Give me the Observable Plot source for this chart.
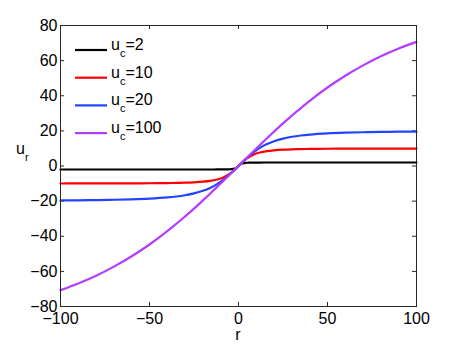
<!DOCTYPE html>
<html>
<head>
<meta charset="utf-8">
<script src="https://cdn.jsdelivr.net/npm/d3@7"></script>
<script src="https://cdn.jsdelivr.net/npm/@observablehq/plot@0.6"></script>
<style>
  html, body { margin: 0; padding: 0; background: #fff; }
  #chart { width: 460px; height: 346px; }
</style>
</head>
<body>
<div id="chart"></div>
<script>
// ---- data ----
const rValues = [-100,-90,-80,-70,-60,-50,-40,-35,-30,-25,-20,-16,-12,-10,-8,-6,-5,-4,-3,-2,-1,0,1,2,3,4,5,6,8,10,12,16,20,25,30,35,40,50,60,70,80,90,100];
const seriesNames = ["u_c=2", "u_c=10", "u_c=20", "u_c=100"];
const seriesLabels = ["2", "10", "20", "100"];
const seriesColors = ["#000000", "#ff0000", "#2244ff", "#b43cff"];
const uc2 = [-2.0,-2.0,-2.0,-2.0,-2.0,-2.0,-2.0,-2.0,-2.0,-2.0,-1.99,-1.99,-1.97,-1.96,-1.94,-1.9,-1.86,-1.79,-1.66,-1.41,-0.89,0,0.89,1.41,1.66,1.79,1.86,1.9,1.94,1.96,1.97,1.99,1.99,2.0,2.0,2.0,2.0,2.0,2.0,2.0,2.0,2.0,2.0];
const uc10 = [-9.95,-9.94,-9.92,-9.9,-9.86,-9.81,-9.7,-9.62,-9.49,-9.28,-8.94,-8.48,-7.68,-7.07,-6.25,-5.14,-4.47,-3.71,-2.87,-1.96,-1.0,0,1.0,1.96,2.87,3.71,4.47,5.14,6.25,7.07,7.68,8.48,8.94,9.28,9.49,9.62,9.7,9.81,9.86,9.9,9.92,9.94,9.95];
const uc20 = [-19.61,-19.52,-19.4,-19.23,-18.97,-18.57,-17.89,-17.37,-16.64,-15.62,-14.14,-12.49,-10.29,-8.94,-7.43,-5.75,-4.85,-3.92,-2.97,-1.99,-1.0,0,1.0,1.99,2.97,3.92,4.85,5.75,7.43,8.94,10.29,12.49,14.14,15.62,16.64,17.37,17.89,18.57,18.97,19.23,19.4,19.52,19.61];
const uc100 = [-70.7,-66.9,-62.5,-57.3,-51.4,-44.7,-37.1,-33.0,-28.7,-24.3,-19.6,-15.8,-11.9,-9.95,-7.97,-5.99,-4.99,-4.0,-3.0,-2.0,-1.0,0,1.0,2.0,3.0,4.0,4.99,5.99,7.97,9.95,11.9,15.8,19.6,24.3,28.7,33.0,37.1,44.7,51.4,57.3,62.5,66.9,70.7];
const xTicks = [-100, -50, 0, 50, 100];
const yTicks = [-80, -60, -40, -20, 0, 20, 40, 60, 80];

const seriesValues = [uc2, uc10, uc20, uc100];
const rows = [];
seriesValues.forEach((vals, si) => {
  rValues.forEach((r, i) => rows.push({r, u: vals[i], s: seriesNames[si]}));
});

const W = 460, H = 346;
const mL = 60, mR = 44, mT = 25, mB = 40;
const innerW = W - mL - mR, innerH = H - mT - mB;
const axisColor = "#262626";
const FONT = "'Liberation Sans', Arial, Helvetica, sans-serif";

const plot = Plot.plot({
  width: W, height: H,
  marginLeft: mL, marginRight: mR, marginTop: mT, marginBottom: mB,
  style: {fontFamily: FONT, fontSize: "16px", color: "#000", background: "#fff"},
  x: {domain: [-100, 100]},
  y: {domain: [-80, 80]},
  color: {domain: seriesNames, range: seriesColors},
  marks: [
    Plot.axisX({ticks: xTicks, tickSize: 0, tickPadding: 6, label: null, fill: "#000"}),
    Plot.axisY({ticks: yTicks, tickSize: 0, tickPadding: 3, label: null, fill: "#000"}),
    Plot.tickX(xTicks, {x: d => d, insetTop: innerH - 4, stroke: axisColor}),
    Plot.tickX(xTicks, {x: d => d, insetBottom: innerH - 4, stroke: axisColor}),
    Plot.tickY(yTicks, {y: d => d, insetRight: innerW - 4, stroke: axisColor}),
    Plot.tickY(yTicks, {y: d => d, insetLeft: innerW - 4, stroke: axisColor}),
    Plot.line(rows, {x: "r", y: "u", z: "s", stroke: "s", strokeWidth: 2.2, curve: "monotone-x"}),
    Plot.frame({stroke: axisColor, strokeWidth: 1})
  ]
});

document.getElementById("chart").appendChild(plot);

// ---- axis labels and legend (text with subscripts) ----
const svg = d3.select(plot);
const g = svg.append("g").attr("font-family", FONT).attr("fill", "#000");

// x label "r"
g.append("text").attr("x", mL + innerW / 2).attr("y", 340)
  .attr("text-anchor", "middle").attr("font-size", 16).text("r");

// y label "u_r"
const yl = g.append("text").attr("x", 16).attr("y", 154).attr("font-size", 16)
  .attr("text-anchor", "start");
yl.append("tspan").text("u");
yl.append("tspan").attr("font-size", 11).attr("dy", 7).text("r");

// legend
const legX = 75, legY = 50, legStep = 27.7, swatchW = 32;
seriesNames.forEach((name, i) => {
  const y = legY + i * legStep;
  g.append("line").attr("x1", legX).attr("x2", legX + swatchW)
    .attr("y1", y).attr("y2", y)
    .attr("stroke", seriesColors[i]).attr("stroke-width", 2.2);
  const t = g.append("text").attr("x", legX + swatchW + 4).attr("y", y)
    .attr("font-size", 16).attr("text-anchor", "start");
  t.append("tspan").text("u");
  t.append("tspan").attr("font-size", 11).attr("dy", 7).text("c");
  t.append("tspan").attr("dy", -7).text("=" + seriesLabels[i]);
});
</script>
</body>
</html>
